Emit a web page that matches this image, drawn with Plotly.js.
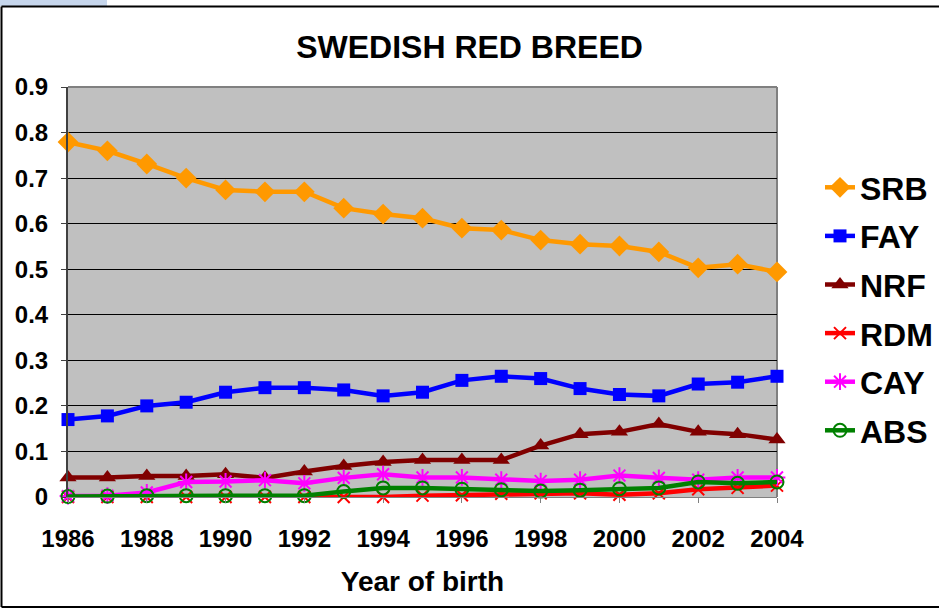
<!DOCTYPE html>
<html>
<head>
<meta charset="utf-8">
<script src="https://cdn.plot.ly/plotly-3.0.1.min.js"></script>
<style>
html,body{margin:0;padding:0;background:#fff;}
#chart{width:939px;height:610px;}
</style>
</head>
<body>
<div id="chart"></div>
<script>
var years = [1986,1987,1988,1989,1990,1991,1992,1993,1994,1995,1996,1997,1998,1999,2000,2001,2002,2003,2004];
var tickYears = [1986,1988,1990,1992,1994,1996,1998,2000,2002,2004];
var SRB = [0.779,0.760,0.731,0.700,0.674,0.670,0.670,0.634,0.621,0.612,0.590,0.586,0.564,0.555,0.551,0.538,0.503,0.511,0.494];
var FAY = [0.170,0.178,0.200,0.208,0.230,0.240,0.240,0.235,0.222,0.230,0.256,0.265,0.260,0.238,0.225,0.222,0.248,0.252,0.265];
var NRF = [0.043,0.043,0.046,0.046,0.050,0.042,0.056,0.068,0.077,0.081,0.081,0.081,0.113,0.138,0.143,0.160,0.143,0.138,0.126];
var RDM = [0.000,0.000,0.000,0.000,0.000,0.000,0.000,0.000,0.000,0.003,0.004,0.007,0.008,0.008,0.005,0.008,0.017,0.020,0.025];
var CAY = [0.002,0.003,0.010,0.033,0.034,0.037,0.030,0.042,0.050,0.043,0.043,0.038,0.035,0.038,0.047,0.042,0.038,0.043,0.043];
var ABS = [0.001,0.002,0.003,0.003,0.003,0.003,0.003,0.012,0.020,0.020,0.017,0.016,0.013,0.015,0.018,0.020,0.033,0.030,0.033];

var FONT = 'Liberation Sans, Arial, sans-serif';

function tr(name, y, color, symbol, size, lw){
  return {
    x: years, y: y, name: name, type: 'scatter', mode: 'lines+markers',
    legendgroup: name, cliponaxis: false,
    line: {color: color, width: 4.5},
    marker: {color: color, symbol: symbol, size: size, line: {color: color, width: lw}}
  };
}

var data = [
  tr('SRB', SRB, '#FF9900', 'diamond', 16, 0),
  tr('FAY', FAY, '#0000FF', 'square', 13, 0),
  tr('NRF', NRF, '#800000', 'triangle-up', 15, 0),
  tr('RDM', RDM, '#FF0000', 'x-thin', 12, 2),
  tr('CAY', CAY, '#FF00FF', 'asterisk', 14, 2),
  tr('ABS', ABS, '#008000', 'circle-open', 13, 2)
];

var L = 68, R = 777, T = 87, B = 497;
var W = R - L, H = B - T;
function px(x){ return (x - L) / W; }
function py(y){ return (B - y) / H; }

var layout = {
  width: 939, height: 610,
  margin: {l: L, r: 939 - R, t: T, b: 610 - B, pad: 0, autoexpand: false},
  paper_bgcolor: '#ffffff',
  plot_bgcolor: '#C0C0C0',
  font: {family: FONT, color: '#000000'},
  title: {
    text: 'SWEDISH RED BREED',
    font: {family: FONT, size: 32, weight: 700, color: '#000'},
    x: 0.5, xanchor: 'center', xref: 'container',
    y: 1 - 47/610, yanchor: 'middle', yref: 'container'
  },
  xaxis: {
    type: 'linear', range: [1986, 2004],
    tickvals: tickYears, ticktext: tickYears.map(String),
    ticks: 'outside', ticklen: 5, tickcolor: '#808080', tickwidth: 1,
    ticklabelstandoff: 15,
    showline: true, linecolor: '#808080', linewidth: 1,
    showgrid: false, zeroline: false,
    tickfont: {family: FONT, size: 24, weight: 700, color: '#000'},
    title: {text: 'Year of birth', standoff: 20,
            font: {family: FONT, size: 28, weight: 700, color: '#000'}}
  },
  yaxis: {
    range: [0, 0.9], dtick: 0.1, tick0: 0,
    ticks: 'outside', ticklen: 5, tickcolor: '#404040', tickwidth: 1,
    ticklabelstandoff: 8,
    showline: true, linecolor: '#404040', linewidth: 2,
    showgrid: true, gridcolor: '#000000', gridwidth: 1,
    zeroline: false,
    tickfont: {family: FONT, size: 24, weight: 700, color: '#000'}
  },
  showlegend: true,
  legend: {
    x: px(820), xanchor: 'left', xref: 'paper',
    y: py(160), yanchor: 'top', yref: 'paper',
    bgcolor: 'rgba(0,0,0,0)', borderwidth: 0,
    tracegroupgap: 4,
    font: {family: FONT, size: 32, weight: 700, color: '#000'}
  },
  shapes: [
    {type: 'line', xref: 'paper', yref: 'paper', x0: 1, x1: 1, y0: 0, y1: 1,
     line: {color: '#808080', width: 2}, layer: 'below'},
    {type: 'line', xref: 'paper', yref: 'paper', x0: 0, x1: 1, y0: 1, y1: 1,
     line: {color: '#808080', width: 2}, layer: 'above'},
    {type: 'rect', xref: 'paper', yref: 'paper', x0: px(0), x1: px(107), y0: py(0), y1: py(6),
     fillcolor: '#C6D6EC', line: {width: 0}, layer: 'above'},
    {type: 'line', xref: 'paper', yref: 'paper', x0: px(1.5), x1: px(1.5), y0: py(6.5), y1: py(607),
     line: {color: '#000000', width: 2}, layer: 'above'},
    {type: 'line', xref: 'paper', yref: 'paper', x0: px(1.5), x1: px(960), y0: py(6.5), y1: py(6.5),
     line: {color: '#000000', width: 2}, layer: 'above'},
    {type: 'line', xref: 'paper', yref: 'paper', x0: px(1.5), x1: px(960), y0: py(607), y1: py(607),
     line: {color: '#000000', width: 2}, layer: 'above'}
  ]
};

Plotly.newPlot('chart', data, layout, {displayModeBar: false, staticPlot: true});
</script>
</body>
</html>
